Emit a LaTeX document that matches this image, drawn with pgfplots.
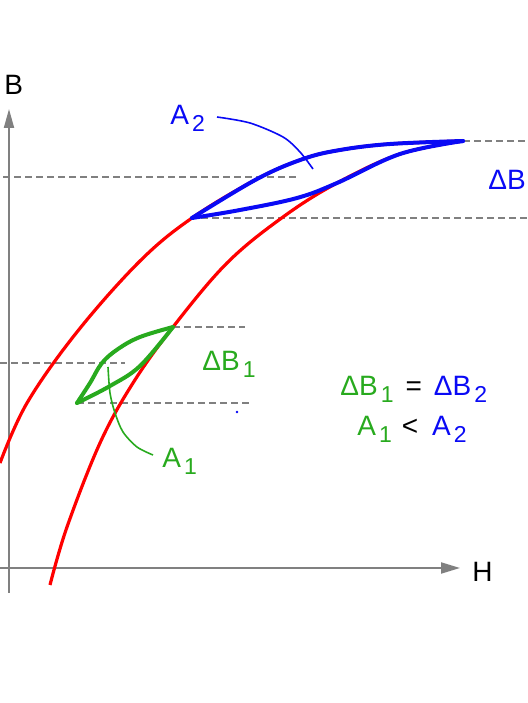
\documentclass[border=0pt]{standalone}
\usepackage{pgfplots}
\pgfplotsset{compat=1.18}
\usepackage{fontspec}
\setmainfont{Liberation Sans}
\usetikzlibrary{arrows.meta}
\definecolor{grn}{RGB}{40,170,30}
\definecolor{blu}{RGB}{10,10,245}
\definecolor{gry}{RGB}{128,128,128}
\newcommand{\lbl}{\fontsize{14}{16}\selectfont}
\newcommand{\sub}[1]{\hspace{1.5pt}\raisebox{-3.5pt}{\fontsize{11.5}{12}\selectfont #1}}
\begin{document}
\begin{tikzpicture}
\useasboundingbox (0,0) rectangle (263.5pt,351.5pt);
\begin{axis}[
  scale only axis, width=263.5pt, height=351.5pt,
  xmin=0, xmax=527, ymin=0, ymax=703,
  hide axis, clip=false,
]
% dashed guide lines
\addplot[gry, line width=1pt, dash pattern=on 3.5pt off 2pt] coordinates {(3,526) (297,526)};
\addplot[gry, line width=1pt, dash pattern=on 3.5pt off 2pt] coordinates {(190,485) (527,485)};
\addplot[gry, line width=1pt, dash pattern=on 3.5pt off 2pt] coordinates {(463,562) (527,562)};
\addplot[gry, line width=1pt, dash pattern=on 3.5pt off 2pt] coordinates {(173,376) (245,376)};
\addplot[gry, line width=1pt, dash pattern=on 3.5pt off 2pt] coordinates {(0,340) (125,340)};
\addplot[gry, line width=1pt, dash pattern=on 3.5pt off 2pt] coordinates {(77,300) (250,300)};
% axes
\addplot[gry, line width=1pt, -{Triangle[length=9.5pt,width=5pt]}] coordinates {(9,110) (9,594)};
\addplot[gry, line width=1pt, -{Triangle[length=9.5pt,width=5.5pt]}] coordinates {(0,135) (460,135)};
% red hysteresis branches
\addplot[red, line width=1.6pt, smooth, tension=0.6] coordinates {
 (0,240) (27,300) (77,371) (140,442) (192,485) (257,524) (303,544) (340,553) (390,559) (463,562)};
\addplot[red, line width=1.6pt, smooth, tension=0.6] coordinates {
 (50,118) (67,176) (100,260) (133,320) (173,376) (227,440) (283,486) (337,520) (400,549) (463,562)};
% blue minor loop
\addplot[blu, line width=2pt, smooth, tension=0.6, line cap=round] coordinates {
 (192,485) (257,524) (303,544) (340,553) (390,559) (463,562)};
\addplot[blu, line width=2pt, smooth, tension=0.6, line cap=round] coordinates {
 (192,485) (240,493) (297,505) (337,520) (400,549) (463,562)};
% green minor loop
\addplot[grn, line width=2pt, smooth, tension=0.6, line cap=round] coordinates {
 (77,300) (90,320) (102,340) (118,354) (140,366) (173,376)};
\addplot[grn, line width=2pt, smooth, tension=0.6, line cap=round] coordinates {
 (77,300) (110,317) (140,337) (173,376)};
% leaders
\addplot[grn, line width=0.8pt, smooth] coordinates {(108,336) (110,310) (115,290) (123,271) (137,256) (153,248)};
\addplot[blu, line width=0.8pt, smooth] coordinates {(217,586) (250,580) (283,566) (300,551) (313,534)};
\addplot[blu, only marks, mark=*, mark size=0.35pt] coordinates {(237,291)};
% labels
\node[anchor=base west, inner sep=0pt] at (axis cs:4,608) {\lbl B};
\node[anchor=base west, inner sep=0pt] at (axis cs:472,121) {\lbl H};
\node[anchor=base west, inner sep=0pt, text=blu] at (axis cs:170,578) {\lbl A\sub{2}};
\node[anchor=base west, inner sep=0pt, text=blu] at (axis cs:488,513) {\lbl ΔB\sub{2}};
\node[anchor=base west, inner sep=0pt, text=grn] at (axis cs:202,332) {\lbl ΔB\sub{1}};
\node[anchor=base west, inner sep=0pt, text=grn] at (axis cs:162,235) {\lbl A\sub{1}};
\node[anchor=base west, inner sep=0pt] at (axis cs:340,307) {\lbl {\color{grn}ΔB\sub{1}}\hspace{6pt}=\hspace{6pt}{\color{blu}ΔB\sub{2}}};
\node[anchor=base west, inner sep=0pt] at (axis cs:357,267) {\lbl {\color{grn}A\sub{1}}\hspace{5pt}<\hspace{7pt}{\color{blu}A\sub{2}}};
\end{axis}
\end{tikzpicture}
\end{document}
